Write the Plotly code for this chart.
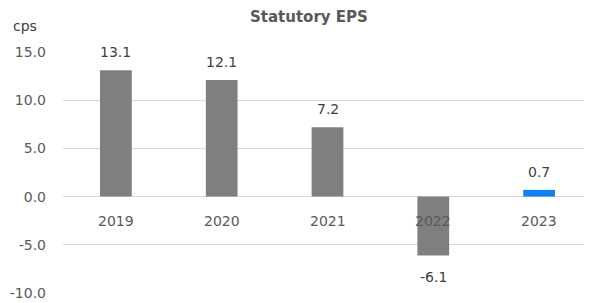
import plotly.graph_objects as go

years = ["2019", "2020", "2021", "2022", "2023"]
eps = [13.1, 12.1, 7.2, -6.1, 0.7]
bar_colors = ["#7f7f7f", "#7f7f7f", "#7f7f7f", "#7f7f7f", "#0f80f2"]
y_ticks = [-10, -5, 0, 5, 10, 15]
y_tick_text = ["-10.0", "-5.0", "0.0", "5.0", "10.0", "15.0"]
title_text = "Statutory EPS"
unit_text = "cps"

FONT = "DejaVu Sans"
W, H = 584, 295          # page body has an 8px default margin
L, R, T, B = 55, 0, 43, 9
PW = W - L - R

fig = go.Figure()
fig.add_trace(go.Bar(
    x=years, y=eps, marker=dict(color=bar_colors, line=dict(width=0)),
    width=0.3, hoverinfo="skip",
))

annotations = []
for i, (yr, v) in enumerate(zip(years, eps)):
    annotations.append(dict(
        x=i, y=v, xref="x", yref="y", text=f"{v:.1f}", showarrow=False,
        yshift=18 if v >= 0 else -22, font=dict(family=FONT, size=14, color="#404040"),
    ))
    annotations.append(dict(
        x=i, y=0, xref="x", yref="y", text=yr, showarrow=False,
        yshift=-24, font=dict(family=FONT, size=14, color="#595959"),
    ))
annotations.append(dict(
    x=(301 - L) / PW, y=1, xref="paper", yref="paper", text=f"<b>{title_text}</b>",
    showarrow=False, yshift=34, xanchor="center", yanchor="middle",
    font=dict(family=FONT, size=15, color="#595959"),
))
annotations.append(dict(
    x=(17 - L) / PW, y=1, xref="paper", yref="paper", text=unit_text,
    showarrow=False, yshift=25, xanchor="center", yanchor="middle",
    font=dict(family=FONT, size=14, color="#404040"),
))

fig.update_layout(
    width=W, height=H,
    margin=dict(l=L, r=R, t=T, b=B),
    paper_bgcolor="white", plot_bgcolor="white",
    showlegend=False,
    annotations=annotations,
    xaxis=dict(type="category", showticklabels=False, showgrid=False, zeroline=False,
               showline=False, ticks="", range=[-0.5, 4.5]),
    yaxis=dict(range=[-10.1, 15.1], tickvals=y_ticks, ticktext=y_tick_text,
               showgrid=True, gridcolor="#d9d9d9", gridwidth=1.3, zeroline=False,
               showline=False, ticks="", ticklabelstandoff=16,
               tickfont=dict(family=FONT, size=14, color="#595959")),
)

fig.write_html("out.html")
